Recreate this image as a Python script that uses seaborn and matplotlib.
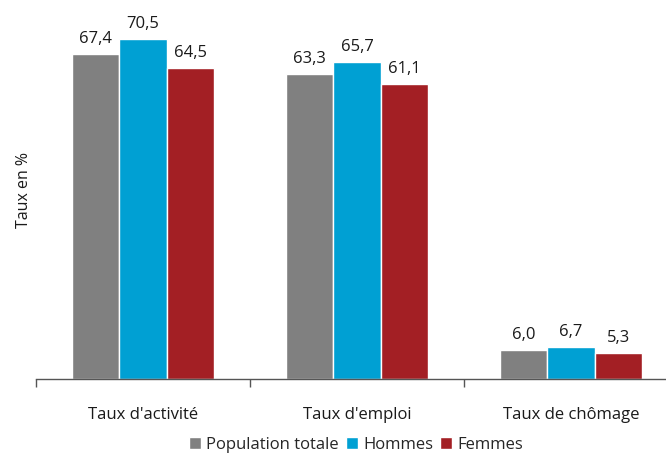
import pandas as pd
import numpy as np
import matplotlib.pyplot as plt
import seaborn as sns

categories = ["Taux d'activité", "Taux d'emploi", "Taux de chômage"]
series = ["Population totale", "Hommes", "Femmes"]
population_totale = [67.4, 63.3, 6.0]
hommes = [70.5, 65.7, 6.7]
femmes = [64.5, 61.1, 5.3]
colors = ["#808080", "#00A0D3", "#A31F24"]

rows = []
for name, vals in zip(series, [population_totale, hommes, femmes]):
    for cat, v in zip(categories, vals):
        rows.append({"cat": cat, "serie": name, "val": v})
df = pd.DataFrame(rows)

sns.set_style("white")
plt.rcParams['font.family'] = ['Open Sans', 'DejaVu Sans']

fig = plt.figure(figsize=(6.66, 4.53), dpi=100)
ax = fig.add_axes([36/666, 74/453, 630/666, 379/453])
sns.barplot(data=df, x="cat", y="val", hue="serie", order=categories,
            hue_order=series, palette=colors, saturation=1, width=0.665,
            edgecolor="white", linewidth=1, ax=ax, legend=True)

for cont in ax.containers:
    ax.bar_label(cont, labels=[f"{v:.1f}".replace(".", ",") for v in cont.datavalues],
                 padding=5, fontsize=12, color="#1a1a1a")

ax.set_yticks([])
for s in ["top", "right", "left"]:
    ax.spines[s].set_visible(False)
ax.spines["bottom"].set_color("#555555")
ax.spines["bottom"].set_linewidth(1)
ax.set_xticks([-0.5, 0.5, 1.5, 2.5], minor=True)
ax.tick_params(axis="x", which="minor", bottom=True, length=6, width=1, color="#555555", direction="out")
ax.tick_params(axis="x", which="major", bottom=False, length=0, pad=20, labelsize=12, labelcolor="#1a1a1a")
ax.set_ylim(0, 78.6)
ax.set_xlim(-0.5, -0.5 + 630/214)
ax.set_xlabel("")
ax.set_ylabel("Taux en %", fontsize=11.5, color="#1a1a1a", labelpad=3)

ax.legend(loc="lower center", bbox_to_anchor=(356/666, -0.018), bbox_transform=fig.transFigure,
          ncol=3, frameon=False, fontsize=12, handlelength=0.75, handleheight=0.75,
          handletextpad=0.3, columnspacing=0.4, borderaxespad=0.1)

fig.savefig("out.png", dpi=100)
